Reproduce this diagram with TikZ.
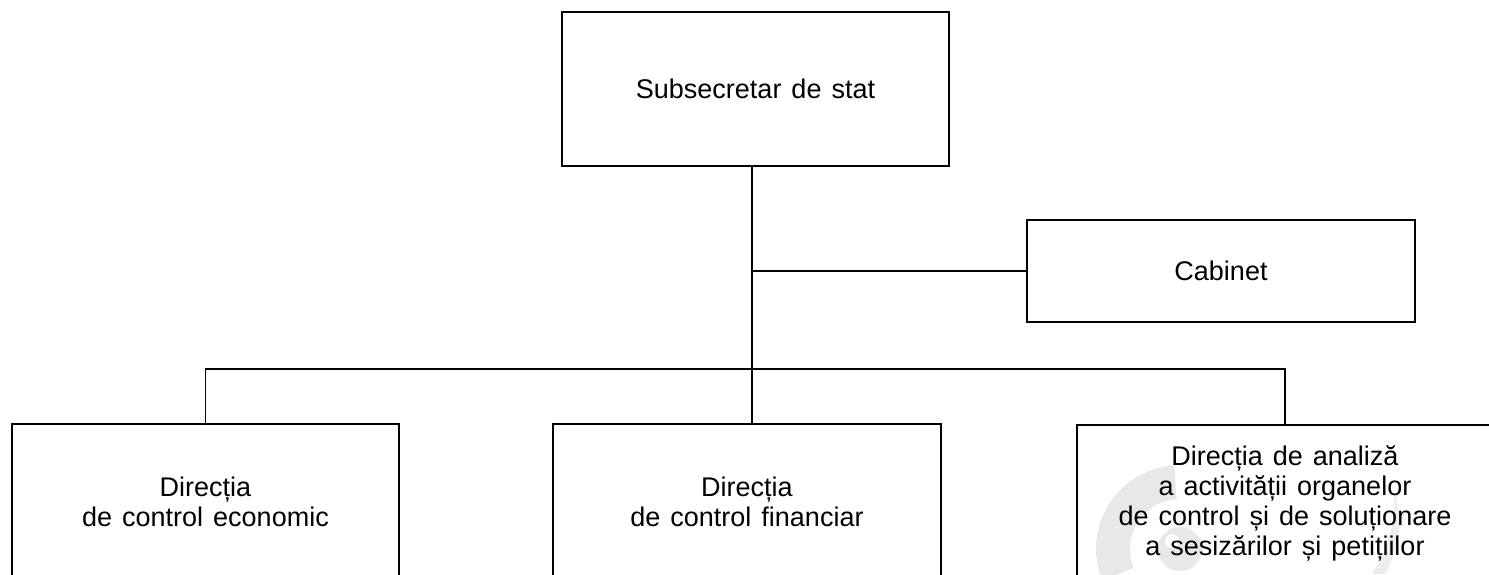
\documentclass[tikz,border=0pt]{standalone}
\usepackage{fontspec}
\setmainfont{Liberation Sans}
\usetikzlibrary{calc}
\newcommand\myboxfont{\fontsize{27}{30}\selectfont\spaceskip=10pt plus 1pt minus 1pt\relax}
\begin{document}
\begin{tikzpicture}[x=1pt,y=-1pt,
  box/.style={draw=black,line width=1.7pt,rectangle,inner sep=0pt,align=center,
    font=\myboxfont},
  conn/.style={draw=black,line width=1.7pt},
  wm/.style={fill=black!9,draw=none}]
\useasboundingbox (0,0) rectangle (1489,574);
\clip (0,0) rectangle (1489,574);
% watermark (faint logo), behind the text
\coordinate (wc) at (1180,549);
\fill[wm] ($(wc)+(158:84)$) arc[start angle=158,end angle=266,radius=84]
  -- ($(wc)+(266:50)$) arc[start angle=266,end angle=158,radius=50] -- cycle;
\fill[wm] (wc) circle[radius=22];
\fill[white] (1172,541) circle[radius=7];
\fill[black!7] (1372,574) .. controls (1390,545) and (1398,515) .. (1393,490)
  .. controls (1405,515) and (1400,548) .. (1385,574) -- cycle;
% nodes
\node[box,minimum width=387pt,minimum height=154pt] (top) at (755.5,89) {Subsecretar de stat};
\node[box,minimum width=388pt,minimum height=102pt] (cab) at (1221,271) {Cabinet};
\node[box,minimum width=387pt,minimum height=156pt] (left) at (205.5,502) {Direcția\\de control economic};
\node[box,minimum width=388pt,minimum height=156pt] (mid) at (747,502) {Direcția\\de control financiar};
\node[box,minimum width=416pt,minimum height=156pt] (right) at (1285,503) {Direcția de analiză\\a activității organelor\\de control și de soluționare\\a sesizărilor și petițiilor};
% connectors
\coordinate (j1) at (752,271);
\coordinate (j2) at (752,369);
\draw[conn] (top.south -| j1) -- (j2) -- (mid.north -| j2);
\draw[conn] (j1) -- (cab.west);
\draw[conn] (j2) -| (left.north);
\draw[conn] (j2) -| (right.north);
\end{tikzpicture}
\end{document}
